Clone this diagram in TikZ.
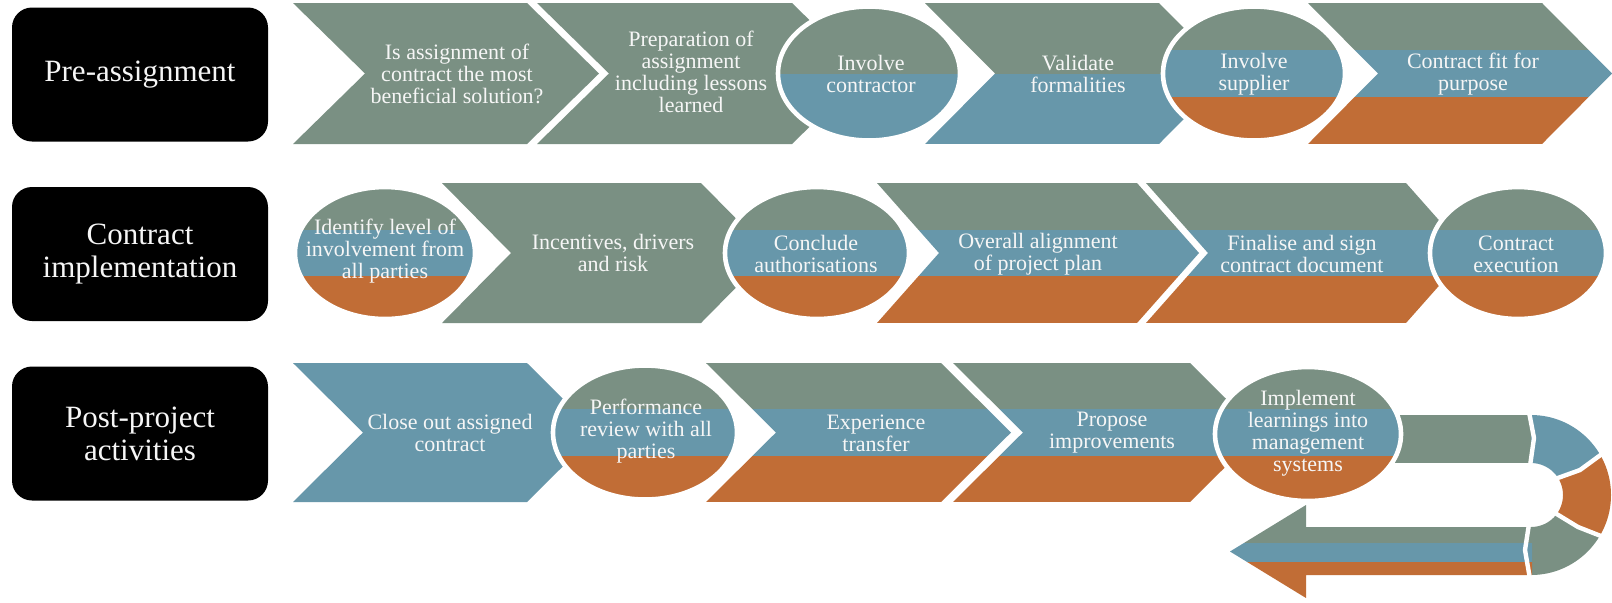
\documentclass[tikz,border=0pt]{standalone}
\usepackage{fontspec}
\setmainfont{Liberation Serif}
\definecolor{cg}{RGB}{122,144,131}
\definecolor{cb}{RGB}{103,151,170}
\definecolor{co}{RGB}{193,109,54}
\definecolor{tw}{RGB}{246,246,246}
% chevron: L, R, top, bottom, depth
\newcommand\chev[5]{(#1,#3) -- (#2,#3) -- ({#2+#5},{(#3+#4)/2}) -- (#2,#4) -- (#1,#4) -- ({#1+#5},{(#3+#4)/2}) -- cycle}
\newcommand\bands[4]{\fill[cg] (0,#1) rectangle (1612,#2); \fill[cb] (0,#2) rectangle (1612,#3); \fill[co] (0,#3) rectangle (1612,#4);}
\newcommand\halves[3]{\fill[cg] (0,#1) rectangle (1612,#2); \fill[cb] (0,#2) rectangle (1612,#3);}
\begin{document}
\begin{tikzpicture}[x=0.5pt,y=-0.5pt,
  txt/.style={text=tw, align=center, font=\fontsize{11}{11}\selectfont, inner sep=0pt},
  box/.style={fill=black, rounded corners=10pt, minimum width=128pt, minimum height=67pt, text=tw, align=center, font=\fontsize{15.5}{16.5}\selectfont},
  ering/.style={draw=white, line width=2.3pt},
  wline/.style={draw=white, line width=2.2pt}]
\useasboundingbox (0,0) rectangle (1612,602);
\fill[white] (0,0) rectangle (1612,602);

% ---------- boxes ----------
\node[box] (b1) at (140,74.5) {Pre-assignment};
\node[box] (b2) at (140,254) {Contract\\implementation};
\node[box] (b3) at (140,433.5) {Post-project\\activities};

% ---------- row 1 ----------
\fill[cg] \chev{293}{527}{3}{144}{72};
\fill[cg] \chev{537}{792}{3}{144}{72};
\begin{scope}\clip (869,73.5) ellipse [x radius=45.5pt, y radius=33.5pt]; \halves{3}{73.5}{144}\end{scope}
\draw[ering] (869,73.5) ellipse [x radius=45.5pt, y radius=33.5pt];
\begin{scope}\clip \chev{925}{1159}{3}{144}{70}; \halves{3}{73.5}{144}\end{scope}
\begin{scope}\clip (1254,73.5) ellipse [x radius=45.5pt, y radius=33.5pt]; \bands{3}{50}{97}{144}\end{scope}
\draw[ering] (1254,73.5) ellipse [x radius=45.5pt, y radius=33.5pt];
\begin{scope}\clip \chev{1308}{1542}{3}{144}{70}; \bands{3}{50}{97}{144}\end{scope}

\node[txt] (t11) at (457,74) {Is assignment of\\contract the most\\beneficial solution?};
\node[txt] (t12) at (691,72) {Preparation of\\assignment\\including lessons\\learned};
\node[txt] (t13) at (871,74) {Involve\\contractor};
\node[txt] (t14) at (1078,74) {Validate\\formalities};
\node[txt] (t15) at (1254,74) {Involve\\supplier};
\node[txt] (t16) at (1473,74) {Contract fit for\\purpose};

% ---------- row 2 ----------
\begin{scope}\clip (385,253) ellipse [x radius=45pt, y radius=33pt]; \bands{183}{230}{276}{323}\end{scope}
\draw[ering] (385,253) ellipse [x radius=45pt, y radius=33pt];
\fill[cg] \chev{442}{701}{183}{323}{69};
\begin{scope}\clip (817,253) ellipse [x radius=46pt, y radius=33pt]; \bands{183}{230}{276}{323}\end{scope}
\draw[ering] (817,253) ellipse [x radius=46pt, y radius=33pt];
\begin{scope}\clip \chev{877}{1137}{183}{323}{62}; \bands{183}{230}{276}{323}\end{scope}
\begin{scope}\clip \chev{1146}{1406}{183}{323}{62}; \bands{183}{230}{276}{323}\end{scope}
\begin{scope}\clip (1518,253) ellipse [x radius=44pt, y radius=33pt]; \bands{183}{230}{276}{323}\end{scope}
\draw[ering] (1518,253) ellipse [x radius=44pt, y radius=33pt];

\node[txt] (t21) at (385,251) {Identify level of\\involvement from\\all parties};
\node[txt] (t22) at (613,253) {Incentives, drivers\\and risk};
\node[txt] (t23) at (816,254) {Conclude\\authorisations};
\node[txt] (t24) at (1038,254) {Overall alignment\\of project plan};
\node[txt] (t25) at (1302,254) {Finalise and sign\\contract document};
\node[txt] (t26) at (1516,254) {Contract\\execution};

% ---------- row 3 ----------
\fill[cb] \chev{293}{527}{363}{502}{70};
\begin{scope}\clip (645,432.5) ellipse [x radius=46pt, y radius=33.5pt]; \bands{363}{409}{456}{502}\end{scope}
\draw[ering] (645,432.5) ellipse [x radius=46pt, y radius=33.5pt];
\begin{scope}\clip \chev{706}{941}{363}{502}{70}; \bands{363}{409}{456}{502}\end{scope}
\begin{scope}\clip \chev{953}{1190}{363}{502}{70}; \bands{363}{409}{456}{502}\end{scope}

% U-turn
\fill[cg] (1380,415) rectangle (1532,463);
\begin{scope}
  \clip (1531,415) arc[start angle=90, end angle=-90, radius=40pt] -- (1531,527) arc[start angle=-90, end angle=90, radius=16pt] -- cycle;
  \fill[cb] (1531,495) -- (1531,380) -- (1640,380) -- (1640,430) -- (1603,453) -- (1580,470) -- (1557,478) -- cycle;
  \fill[co] (1531,495) -- (1557,478) -- (1580,470) -- (1603,453) -- (1640,430) -- (1640,560) -- (1604,536) -- (1578,527) -- (1557,514) -- cycle;
  \fill[cg] (1531,495) -- (1557,514) -- (1578,527) -- (1604,536) -- (1640,560) -- (1640,610) -- (1531,610) -- cycle;
\end{scope}
\begin{scope}
  \clip (1532,527) -- (1306,527) -- (1306,505) -- (1230,551.5) -- (1306,598) -- (1306,575) -- (1532,575) -- cycle;
  \bands{505}{543}{562}{598}
\end{scope}
\draw[wline] (1529,412) -- (1534,438) -- (1530,466);
\draw[wline] (1555,479) -- (1580,470) -- (1606,451);
\draw[wline] (1555,513) -- (1578,527) -- (1606,538);
\draw[wline] (1529,524) -- (1525,550) -- (1530,579);

\begin{scope}\clip (1308,434) ellipse [x radius=46.5pt, y radius=33.5pt]; \bands{363}{409}{456}{502}\end{scope}
\draw[ering] (1308,434) ellipse [x radius=46.5pt, y radius=33.5pt];

\node[txt] (t31) at (450,433) {Close out assigned\\contract};
\node[txt] (t32) at (646,431) {Performance\\review with all\\parties};
\node[txt] (t33) at (876,433) {Experience\\transfer};
\node[txt] (t34) at (1112,433) {Propose\\improvements};
\node[txt] (t35) at (1308,433) {Implement\\learnings into\\management\\systems};
\end{tikzpicture}
\end{document}
